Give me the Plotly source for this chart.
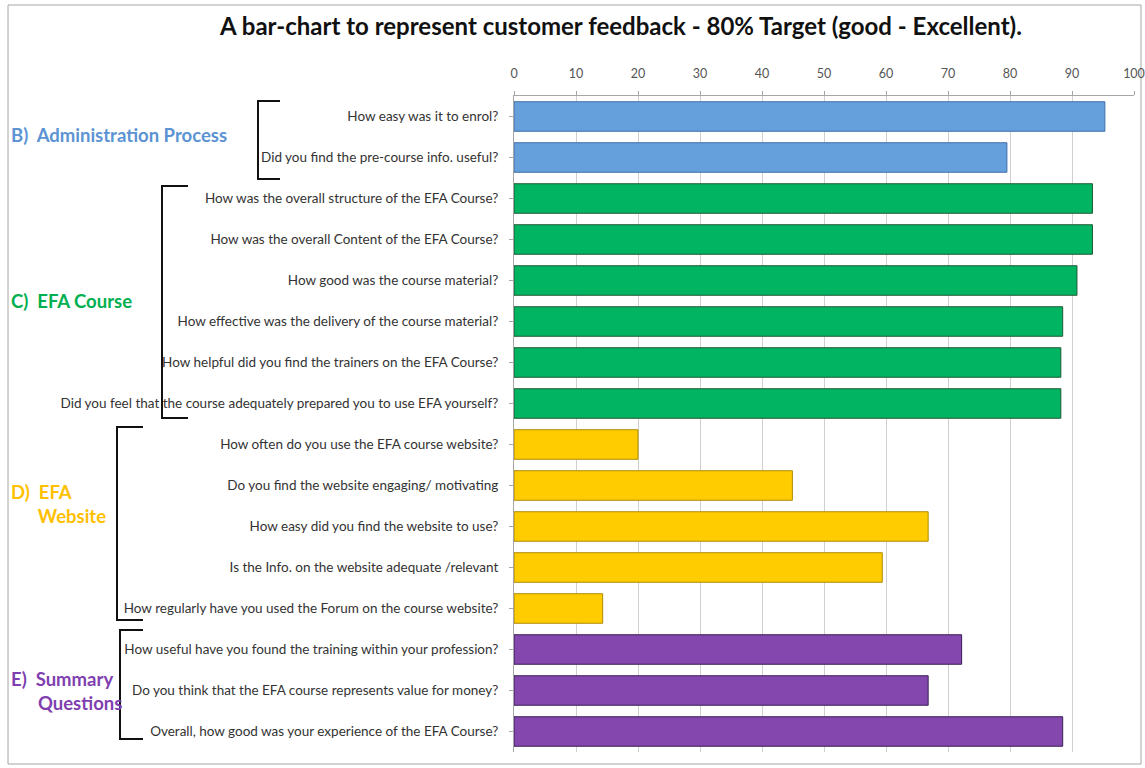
import plotly.graph_objects as go

# Survey questions, grouped by section (top to bottom)
admin_questions = [
    "How easy was it to enrol?",
    "Did you find the pre-course info. useful?",
]
course_questions = [
    "How was the overall structure of the EFA Course?",
    "How was the overall Content of the EFA Course?",
    "How good was the course material?",
    "How effective was the delivery of the course material?",
    "How helpful did you find the trainers on the EFA Course?",
    "Did you feel that the course adequately prepared you to use EFA yourself?",
]
website_questions = [
    "How often do you use the EFA course website?",
    "Do you find the website engaging/ motivating",
    "How easy did you find the website to use?",
    "Is the Info. on the website adequate /relevant",
    "How regularly have you used the Forum on the course website?",
]
summary_questions = [
    "How useful have you found the training within your profession?",
    "Do you think that the EFA course represents value for money?",
    "Overall, how good was your experience of the EFA Course?",
]

# Percentage rating good - excellent
admin_values = [95.3, 79.5]
course_values = [93.3, 93.3, 90.8, 88.5, 88.2, 88.2]
website_values = [20.0, 44.9, 66.8, 59.4, 14.3]
summary_values = [72.2, 66.8, 88.5]

x_ticks = [0, 10, 20, 30, 40, 50, 60, 70, 80, 90, 100]

sections = [
    ("Administration", admin_questions, admin_values, "#65A0DD", "#3E6FA8"),
    ("EFA Course", course_questions, course_values, "#00B462", "#1F5A35"),
    ("EFA Website", website_questions, website_values, "#FFCC00", "#B08A00"),
    ("Summary", summary_questions, summary_values, "#8347AD", "#3A1F55"),
]

all_questions = admin_questions + course_questions + website_questions + summary_questions

fig = go.Figure()
for name, qs, vals, fill, edge in sections:
    fig.add_trace(go.Bar(
        y=qs, x=vals, orientation="h", name=name,
        marker=dict(color=fill, line=dict(color=edge, width=1)),
        width=0.72,
    ))

# Plot-area geometry in pixels, used to place brackets and section labels
W, H = 1145, 768
L, R, T, B = 514, 1134, 96, 752


def px(x):
    return (x - L) / (R - L)


def py(y):
    return (B - y) / (B - T)


def bracket(x_left, x_right, y_top, y_bottom):
    pts = [(x_right, y_top), (x_left, y_top), (x_left, y_bottom), (x_right, y_bottom)]
    path = "M " + " L ".join(f"{px(a):.5f},{py(b):.5f}" for a, b in pts)
    return dict(type="path", xref="paper", yref="paper", path=path,
                line=dict(color="#111111", width=2))


shapes = [
    bracket(258, 280, 101, 179),
    bracket(162, 188, 186, 418),
    bracket(117, 143, 427, 620),
    bracket(120, 143, 630, 739),
    # outer frame
    dict(type="rect", xref="paper", yref="paper",
         x0=px(8), x1=px(1141), y0=py(764), y1=py(5),
         line=dict(color="#A6A6A6", width=1), fillcolor="rgba(0,0,0,0)", layer="below"),
]

label_font = "Lato, 'Open Sans', sans-serif"
annotations = []
for text, x0, y0, color in [
    ("B)  Administration Process", 10, 135, "#5B93D3"),
    ("C)  EFA Course", 10, 301, "#00B050"),
    ("D)  EFA<br>      Website", 10, 504, "#FFC000"),
    ("E)  Summary<br>      Questions", 10, 691, "#7F3FB0"),
]:
    annotations.append(dict(
        text=text, x=px(x0), y=py(y0), xref="paper", yref="paper",
        xanchor="left", yanchor="middle", align="left", showarrow=False,
        borderpad=0,
        font=dict(family=label_font, size=18.5, color=color, weight="bold"),
    ))

fig.update_layout(
    width=W, height=H,
    margin=dict(l=L, r=W - R, t=T, b=H - B, autoexpand=False),
    paper_bgcolor="white", plot_bgcolor="white",
    showlegend=False,
    bargap=0.28,
    title=dict(
        text="<b>A bar-chart to represent customer feedback - 80% Target (good - Excellent).</b>",
        xref="container", x=621 / W, xanchor="center",
        yref="container", y=1 - 27 / H, yanchor="middle",
        font=dict(family=label_font, size=24, color="#111111"),
    ),
    xaxis=dict(
        side="top", range=[0, 100], tickvals=x_ticks,
        showgrid=True, gridcolor="#D0D0D0", gridwidth=1,
        showline=True, linecolor="#A6A6A6", linewidth=1,
        ticks="outside", ticklen=4, tickcolor="#A6A6A6",
        ticklabelstandoff=8,
        tickfont=dict(family=label_font, size=12.5, color="#555555"),
        zeroline=False, fixedrange=True, automargin=False,
    ),
    yaxis=dict(
        categoryorder="array", categoryarray=all_questions,
        autorange="reversed",
        showline=True, linecolor="#A6A6A6", linewidth=1,
        ticks="outside", ticklen=4, tickcolor="#A6A6A6",
        ticklabelstandoff=8,
        tickfont=dict(family=label_font, size=13.5, color="#333333"),
        showgrid=False, fixedrange=True, automargin=False,
    ),
    shapes=shapes,
    annotations=annotations,
)

fig.write_html("out.html")
